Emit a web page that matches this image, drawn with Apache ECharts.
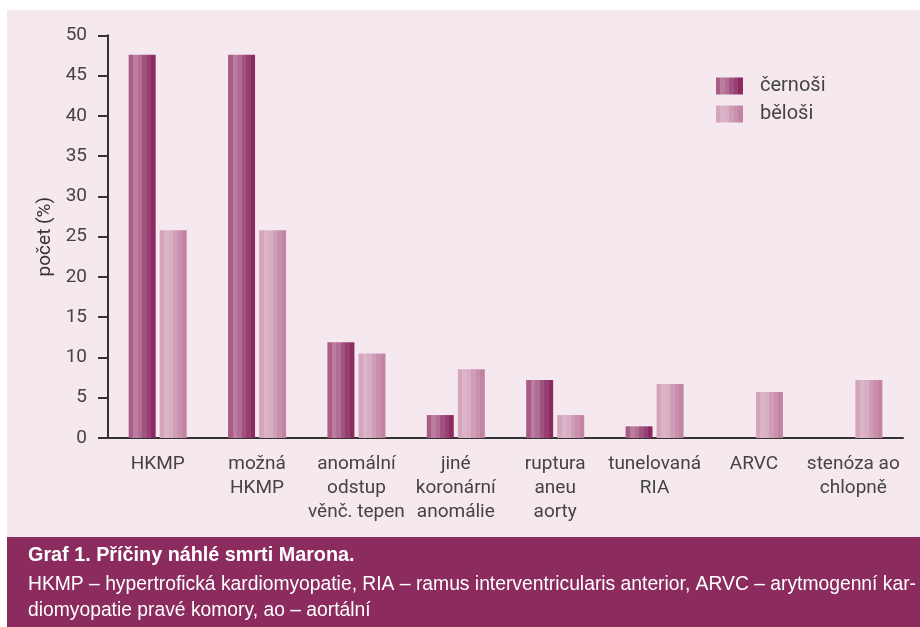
<!DOCTYPE html>
<html><head><meta charset="utf-8">
<script src="https://cdn.jsdelivr.net/npm/echarts@6/dist/echarts.min.js"></script>
<style>html,body{margin:0;padding:0;background:#fff}#c{width:920px;height:627px}</style>
</head><body><div id="c"></div>
<script>
const categories = ["HKMP", "možná\nHKMP", "anomální\nodstup\nvěnč. tepen", "jiné\nkoronární\nanomálie", "ruptura\naneu\naorty", "tunelovaná\nRIA", "ARVC", "stenóza ao\nchlopně"];
const cernosi = [47.6, 47.6, 11.9, 2.85, 7.2, 1.45, 0, 0];
const belosi = [25.8, 25.8, 10.5, 8.55, 2.85, 6.7, 5.7, 7.2];
const seriesNames = ["černoši", "běloši"];
const yTicks = [0, 5, 10, 15, 20, 25, 30, 35, 40, 45, 50];
const captionTitle = "Graf 1. Příčiny náhlé smrti Marona.";
const captionLines = ["HKMP – hypertrofická kardiomyopatie, RIA – ramus interventricularis anterior, ARVC – arytmogenní kar-", "diomyopatie pravé komory, ao – aortální"];

function stripes(cols){
  const stops=[]; const n=cols.length;
  cols.forEach((c,i)=>{stops.push({offset:i/n,color:c});stops.push({offset:(i+1)/n,color:c});});
  return new echarts.graphic.LinearGradient(0,0,1,0,stops);
}
const darkFill = stripes(['#a85d87','#bb7c9e','#b06d95','#a2527f','#973f72','#8c2b5f']);
const lightFill = stripes(['#d4a5bb','#dbb5c7','#d7aec2','#cf9db6','#c98fad','#c384a3']);
const font = 'Roboto, "Liberation Sans", sans-serif';
const capFont = '"Liberation Sans", Arial, sans-serif';
const chart = echarts.init(document.getElementById('c'));
chart.setOption({
  backgroundColor:'#ffffff',
  animation:false,
  graphic:[
    {type:'rect',shape:{x:7,y:10,width:913,height:527},style:{fill:'#f5e9ef'},z:-10},
    {type:'rect',shape:{x:7,y:537,width:913,height:90},style:{fill:'#8b2b5e'},z:-10},
    {type:'text',left:28,top:546,style:{text:captionTitle,fill:'#ffffff',font:'bold 19.8px '+capFont}},
    {type:'text',left:28,top:572,style:{text:captionLines.join('\n'),fill:'#ffffff',lineHeight:26,font:'19.3px '+capFont}}
  ],
  legend:{orient:'vertical',left:711,top:71,itemWidth:27,itemHeight:17,itemGap:8,icon:'rect',
    textStyle:{fontSize:20,color:'#444',fontFamily:font,padding:[0,0,0,12]},data:seriesNames},
  grid:{left:108,right:17,top:35.3,bottom:189,containLabel:false},
  xAxis:{type:'category',data:categories,
    axisLine:{lineStyle:{color:'#333',width:2}},
    axisTick:{length:10,lineStyle:{color:'#333',width:2}},
    axisLabel:{fontSize:19,color:'#444',fontFamily:font,lineHeight:24,margin:14,interval:0}},
  yAxis:{type:'value',min:0,max:50,interval:5,
    name:'počet (%)',nameLocation:'middle',nameRotate:90,nameGap:53,
    nameTextStyle:{fontSize:19,color:'#333',fontFamily:font},
    axisLine:{show:true,lineStyle:{color:'#333',width:2}},
    axisTick:{show:true,length:10,lineStyle:{color:'#333',width:2}},
    splitLine:{show:false},
    axisLabel:{fontSize:19,color:'#444',fontFamily:font,margin:21,
      formatter:v=>yTicks.includes(v)?String(v):''}},
  series:[
    {name:seriesNames[0],type:'bar',data:cernosi,barWidth:27,barGap:'15%',itemStyle:{color:darkFill}},
    {name:seriesNames[1],type:'bar',data:belosi,barWidth:27,barGap:'15%',itemStyle:{color:lightFill}}
  ]
});
</script></body></html>
